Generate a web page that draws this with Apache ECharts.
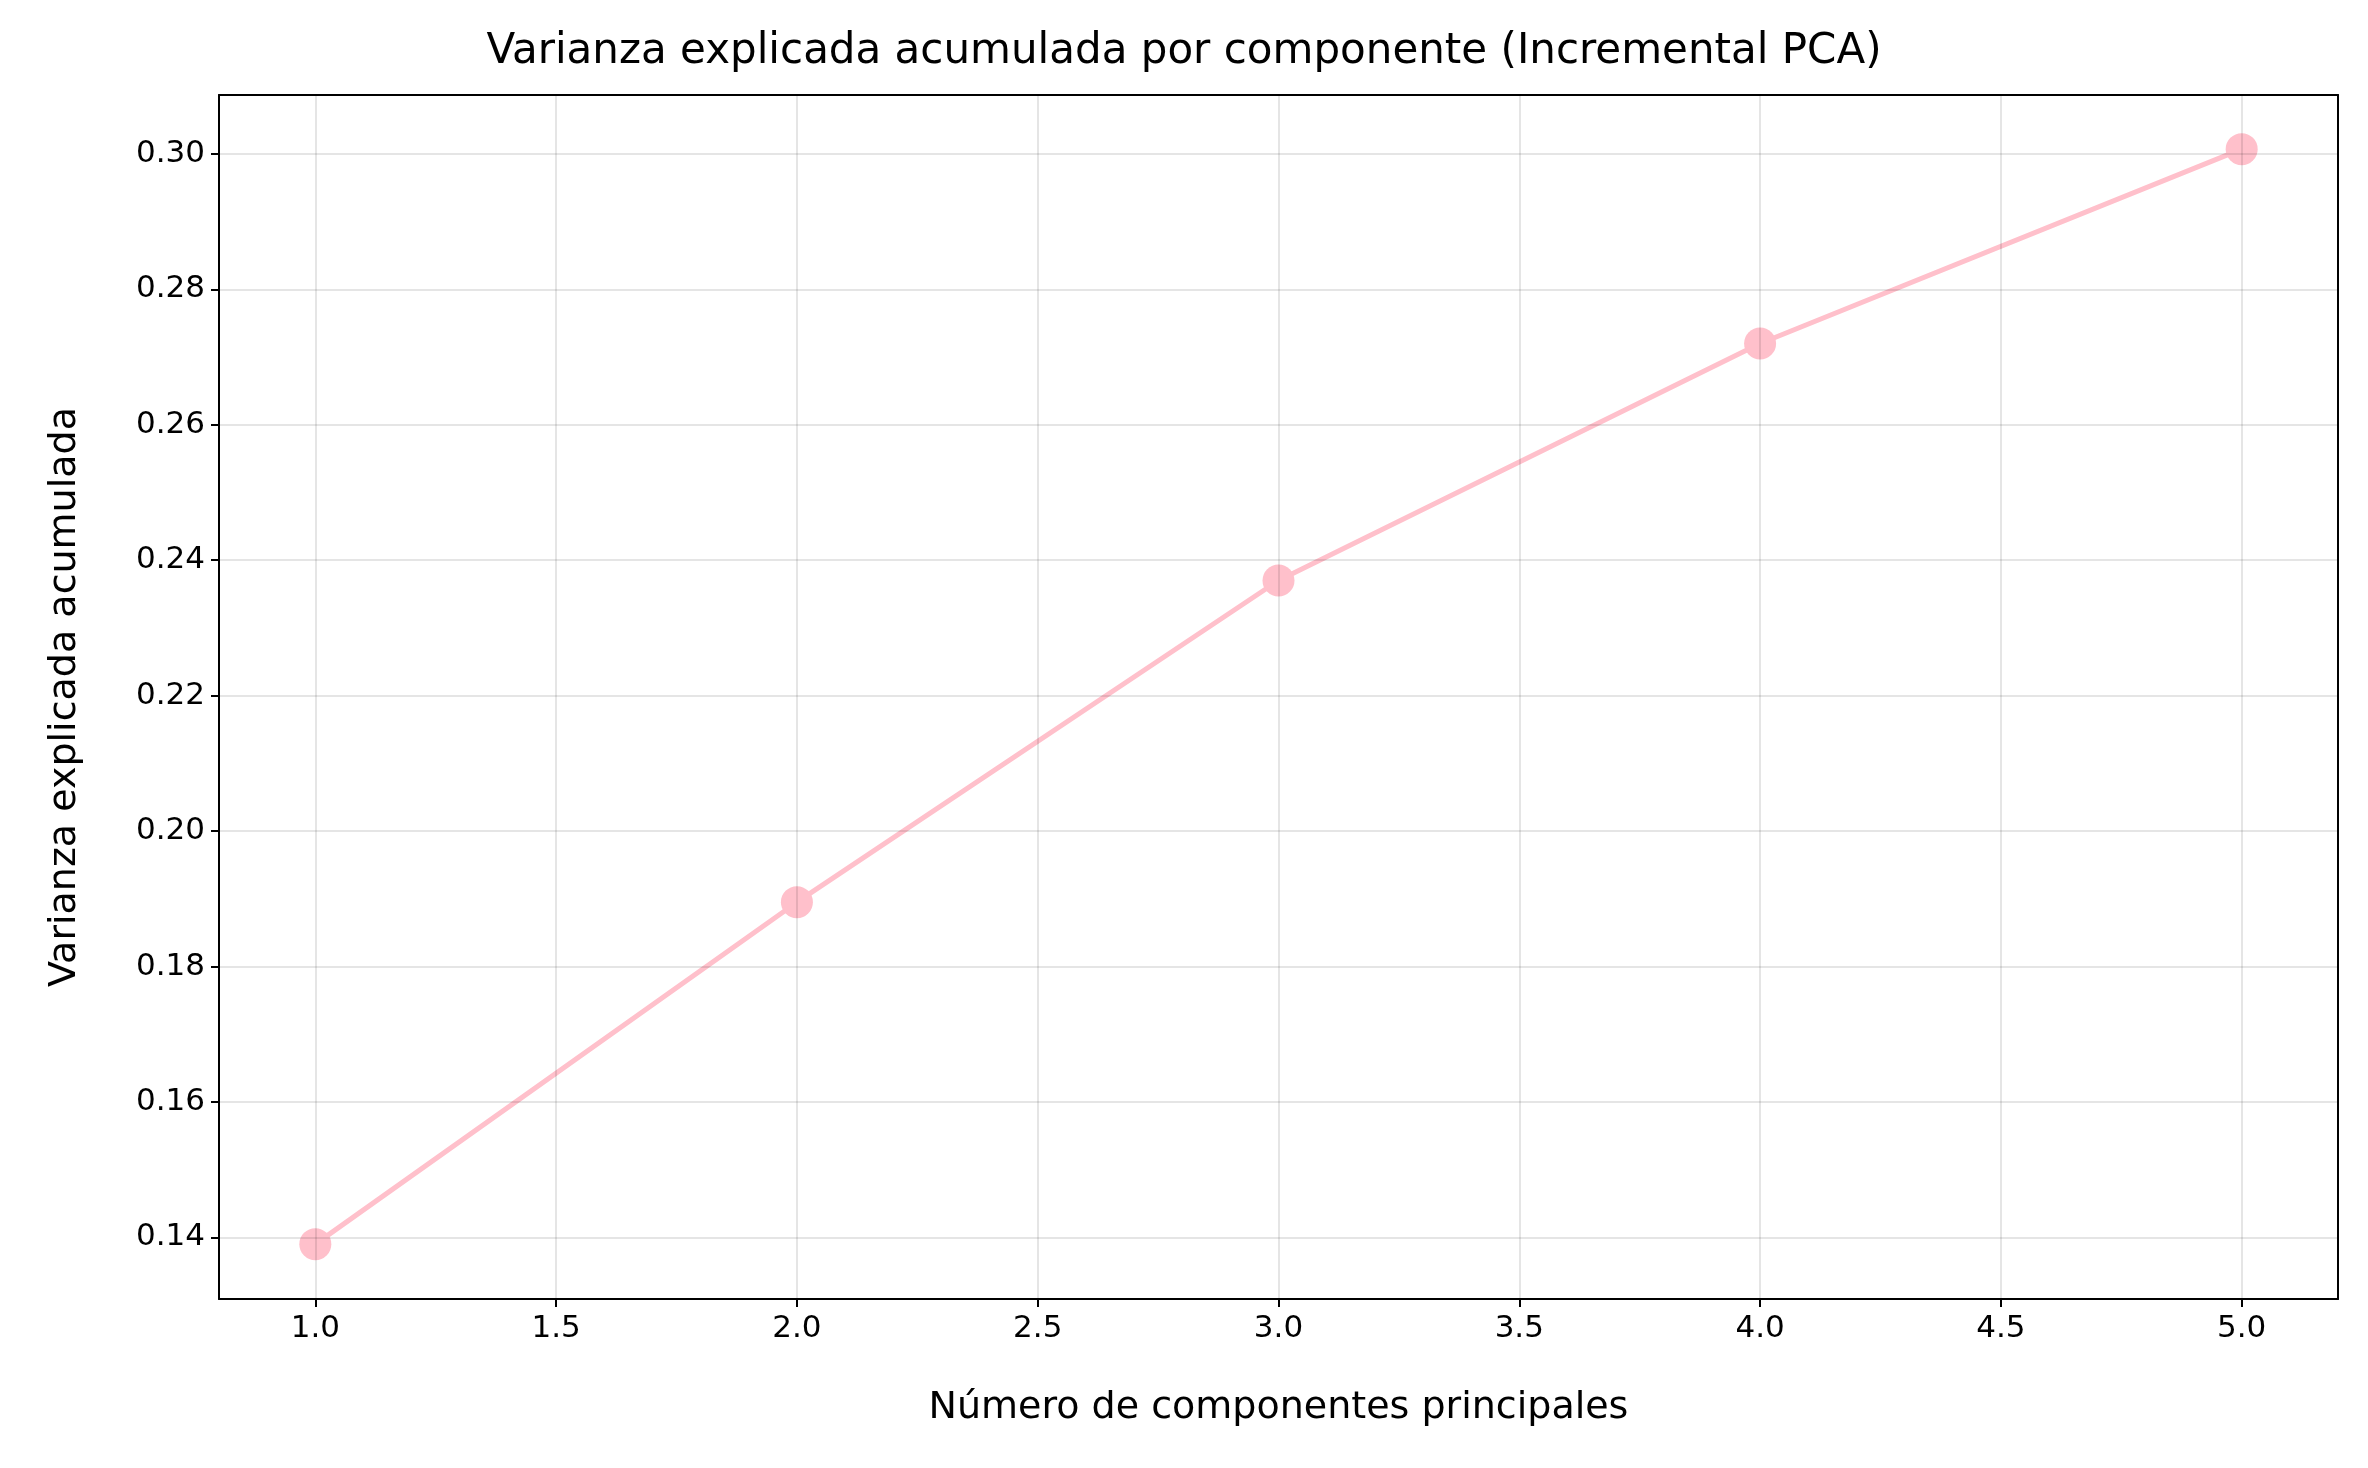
<!DOCTYPE html>
<html>
<head>
<meta charset="utf-8">
<script src="https://cdn.jsdelivr.net/npm/echarts@6/dist/echarts.min.js"></script>
<style>html,body{margin:0;background:#fff}#c{width:2368px;height:1468px}</style>
</head>
<body>
<div id="c"></div>
<script>
// datos
const componentes = [1, 2, 3, 4, 5];
const varianzaAcum = [0.139, 0.1895, 0.237, 0.272, 0.3007];
const xTicks = [1.0, 1.5, 2.0, 2.5, 3.0, 3.5, 4.0, 4.5, 5.0];
const yTicks = [0.14, 0.16, 0.18, 0.20, 0.22, 0.24, 0.26, 0.28, 0.30];

const font = 'DejaVu Sans';
const gridLine = { color: '#000', opacity: 0.1, width: 2, type: 'solid' };
const frame = { color: '#000', width: 2 };

const chart = echarts.init(document.getElementById('c'));
chart.setOption({
    animation: false,
    title: {
        text: 'Varianza explicada acumulada por componente (Incremental PCA)',
        left: 'center', top: 26,
        textStyle: { fontFamily: font, fontSize: 42, fontWeight: 'normal', color: '#000' }
    },
    grid: { left: 219, right: 30, top: 95, bottom: 169 },
    xAxis: [{
        type: 'value', min: 0.8, max: 5.2,
        name: 'Número de componentes principales', nameLocation: 'middle', nameGap: 90,
        nameTextStyle: { fontFamily: font, fontSize: 38, color: '#000' },
        axisLine: { onZero: false, lineStyle: frame },
        axisTick: { customValues: xTicks, length: 8, lineStyle: frame },
        axisLabel: { customValues: xTicks, formatter: v => v.toFixed(1), fontFamily: font, fontSize: 31, color: '#000', margin: 14 },
        splitLine: { show: false }
    }, {
        type: 'value', min: 0.8, max: 5.2, position: 'top',
        axisLine: { show: true, onZero: false, lineStyle: frame },
        axisTick: { show: false }, axisLabel: { show: false }, splitLine: { show: false }
    }],
    yAxis: [{
        type: 'value', min: 0.1309, max: 0.3087,
        name: 'Varianza explicada acumulada', nameLocation: 'middle', nameGap: 135,
        nameTextStyle: { fontFamily: font, fontSize: 38, color: '#000' },
        axisLine: { show: true, onZero: false, lineStyle: frame },
        axisTick: { show: true, customValues: yTicks, length: 8, lineStyle: frame },
        axisLabel: { customValues: yTicks, formatter: v => v.toFixed(2), fontFamily: font, fontSize: 31, color: '#000', margin: 14 },
        splitLine: { show: false }
    }, {
        type: 'value', min: 0.1309, max: 0.3087, position: 'right',
        axisLine: { show: true, onZero: false, lineStyle: frame },
        axisTick: { show: false }, axisLabel: { show: false }, splitLine: { show: false }
    }],
    series: [{
        type: 'line',
        data: componentes.map((c, i) => [c, varianzaAcum[i]]),
        symbol: 'circle', symbolSize: 32,
        lineStyle: { color: '#FFC0CB', width: 5 },
        itemStyle: { color: '#FFC0CB' },
        markLine: {
            silent: true, symbol: 'none', label: { show: false },
            lineStyle: gridLine,
            data: xTicks.map(v => ({ xAxis: v })).concat(yTicks.map(v => ({ yAxis: v })))
        },
        z: 3
    }]
});
</script>
</body>
</html>
